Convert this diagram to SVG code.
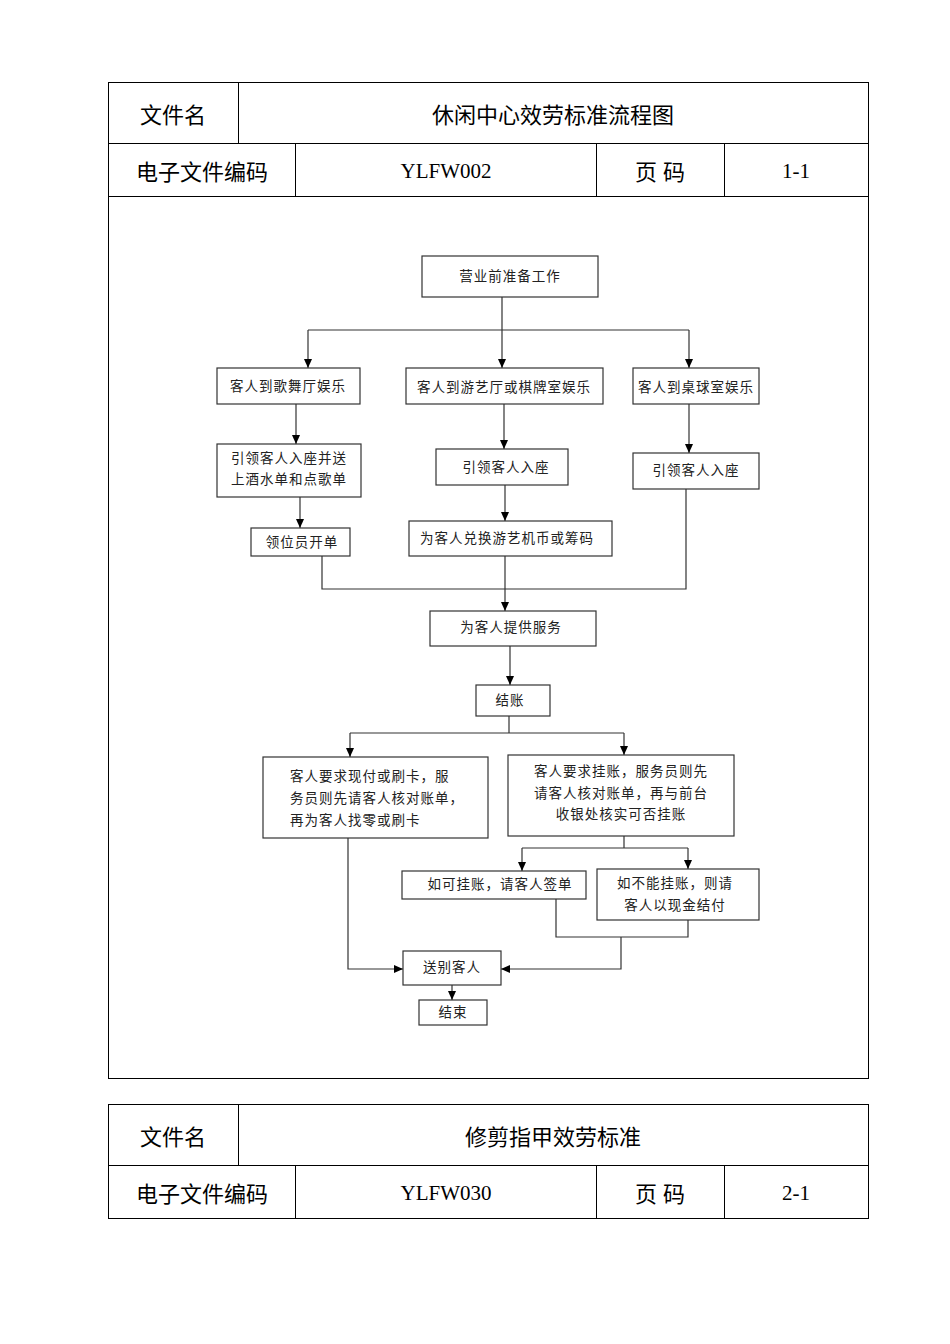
<svg xmlns="http://www.w3.org/2000/svg" width="950" height="1344" viewBox="0 0 950 1344">
<style>
.t{fill:none;stroke:#000;stroke-width:1}
.h{font-family:"Liberation Sans","Noto Sans CJK SC",sans-serif;font-size:22px;text-anchor:middle}
.c{font-family:"Liberation Serif","Noto Sans CJK SC",serif;font-size:21px;text-anchor:middle}
.b rect{fill:#fff;stroke:#333;stroke-width:1.2}
.b text{font-family:"Liberation Serif","Noto Sans CJK SC",serif;font-size:13.5px;text-anchor:middle;fill:#222;letter-spacing:1px}
.b text.s{text-anchor:start}
.l{fill:none;stroke:#333;stroke-width:1.2}
</style>
<defs><marker id="a" markerWidth="10" markerHeight="10" refX="9" refY="5" orient="auto" markerUnits="userSpaceOnUse"><path d="M0,1 L9,5 L0,9 Z" fill="#000"/></marker></defs>
<rect width="950" height="1344" fill="#fff"/>
<g id="table1">
<rect class="t" x="108.5" y="82.5" width="760" height="996"/>
<path class="t" d="M108 143.5H868M108 196.5H868M238.5 82V143M295.5 143V196M596.5 143V196M724.5 143V196"/>
<text class="h" x="173" y="123">文件名</text>
<text class="h" x="553" y="123" font-size="24">休闲中心效劳标准流程图</text>
<text class="h" x="202" y="180">电子文件编码</text>
<text class="c" x="446" y="178">YLFW002</text>
<text class="h" x="660" y="180">页  码</text>
<text class="c" x="796" y="178">1-1</text>
</g>
<g id="table2">
<rect class="t" x="108.5" y="1104.5" width="760" height="114"/>
<path class="t" d="M108 1165.5H868M238.5 1104V1165M295.5 1165V1218M596.5 1165V1218M724.5 1165V1218"/>
<text class="h" x="173" y="1145">文件名</text>
<text class="h" x="553" y="1145" font-size="24">修剪指甲效劳标准</text>
<text class="h" x="202" y="1202">电子文件编码</text>
<text class="c" x="446" y="1200">YLFW030</text>
<text class="h" x="660" y="1202">页  码</text>
<text class="c" x="796" y="1200">2-1</text>
</g>
<g id="connectors">
<path class="l" d="M502 297V330M308 330H689"/>
<path class="l" d="M308 330V368" marker-end="url(#a)"/>
<path class="l" d="M502 330V368" marker-end="url(#a)"/>
<path class="l" d="M689 330V368" marker-end="url(#a)"/>
<path class="l" d="M296 404V444" marker-end="url(#a)"/>
<path class="l" d="M300 497V528" marker-end="url(#a)"/>
<path class="l" d="M504 404V449" marker-end="url(#a)"/>
<path class="l" d="M505 485V521" marker-end="url(#a)"/>
<path class="l" d="M689 404V453" marker-end="url(#a)"/>
<path class="l" d="M322 556V589H686V489"/>
<path class="l" d="M505 556V611" marker-end="url(#a)"/>
<path class="l" d="M510 646V685" marker-end="url(#a)"/>
<path class="l" d="M509 716V733M350 733H624"/>
<path class="l" d="M350 733V757" marker-end="url(#a)"/>
<path class="l" d="M624 733V755" marker-end="url(#a)"/>
<path class="l" d="M624 836V848M522 848H688"/>
<path class="l" d="M522 848V871" marker-end="url(#a)"/>
<path class="l" d="M688 848V869" marker-end="url(#a)"/>
<path class="l" d="M556 899V937H688V920M621 937V969H501" marker-end="url(#a)"/>
<path class="l" d="M348 838V969H403" marker-end="url(#a)"/>
<path class="l" d="M452 985V1000" marker-end="url(#a)"/>
</g>
<g id="n1" class="b"><rect x="422" y="256" width="176" height="41"/><text x="510" y="281">营业前准备工作</text></g>
<g id="n2" class="b"><rect x="217" y="368" width="143" height="36"/><text x="288" y="391">客人到歌舞厅娱乐</text></g>
<g id="n3" class="b"><rect x="406" y="368" width="197" height="36"/><text x="504" y="392">客人到游艺厅或棋牌室娱乐</text></g>
<g id="n4" class="b"><rect x="633" y="368" width="126" height="36"/><text x="696" y="392">客人到桌球室娱乐</text></g>
<g id="n5" class="b"><rect x="217" y="444" width="144" height="53"/><text x="289" y="463">引领客人入座并送</text><text x="289" y="484">上酒水单和点歌单</text></g>
<g id="n6" class="b"><rect x="251" y="528" width="99" height="28"/><text x="302" y="547">领位员开单</text></g>
<g id="n7" class="b"><rect x="436" y="449" width="132" height="36"/><text x="506" y="472">引领客人入座</text></g>
<g id="n8" class="b"><rect x="409" y="521" width="203" height="35"/><text x="507" y="543">为客人兑换游艺机币或筹码</text></g>
<g id="n9" class="b"><rect x="633" y="453" width="126" height="36"/><text x="696" y="475">引领客人入座</text></g>
<g id="n10" class="b"><rect x="430" y="611" width="166" height="35"/><text x="511" y="632">为客人提供服务</text></g>
<g id="n11" class="b"><rect x="476" y="685" width="74" height="31"/><text x="510" y="705">结账</text></g>
<g id="n12" class="b"><rect x="263" y="757" width="225" height="81"/><text class="s" x="290" y="781">客人要求现付或刷卡，服</text><text class="s" x="290" y="803">务员则先请客人核对账单，</text><text class="s" x="290" y="825">再为客人找零或刷卡</text></g>
<g id="n13" class="b"><rect x="508" y="755" width="226" height="81"/><text x="621" y="776">客人要求挂账，服务员则先</text><text x="621" y="798">请客人核对账单，再与前台</text><text x="621" y="819">收银处核实可否挂账</text></g>
<g id="n14" class="b"><rect x="402" y="871" width="184" height="28"/><text x="500" y="889">如可挂账，请客人签单</text></g>
<g id="n15" class="b"><rect x="597" y="869" width="162" height="51"/><text x="675" y="888">如不能挂账，则请</text><text x="675" y="910">客人以现金结付</text></g>
<g id="n16" class="b"><rect x="403" y="951" width="98" height="34"/><text x="452" y="972">送别客人</text></g>
<g id="n17" class="b"><rect x="419" y="1000" width="68" height="25"/><text x="453" y="1017">结束</text></g>
</svg>
